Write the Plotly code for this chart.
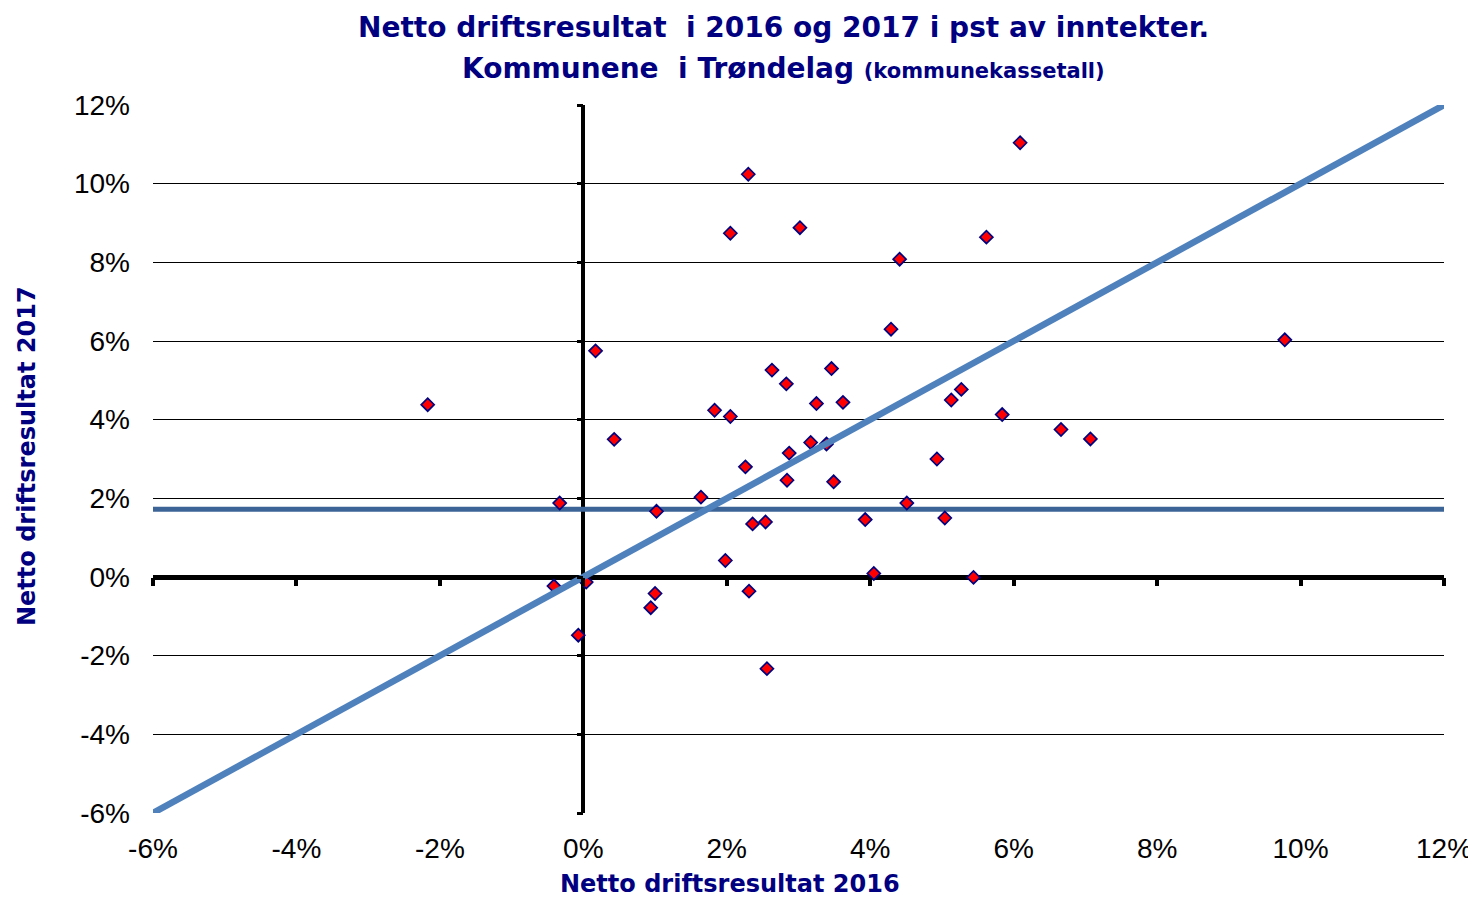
import plotly.graph_objects as go

# ---- data (percent) ----
result_2016 = [-2.17, 0.17, 0.43, -0.33, -0.41, 0.04, -0.07, 1.02, 1.00, 0.94,
               1.64, 1.83, 2.05, 2.05, 2.30, 2.26, 1.98, 2.36, 2.54, 2.31,
               2.56, 2.63, 2.83, 2.84, 2.87, 3.02, 3.17, 3.25, 3.39, 3.46,
               3.49, 3.62, 3.93, 4.05, 4.29, 4.41, 4.51, 4.93, 5.04, 5.13,
               5.27, 5.44, 5.62, 5.84, 6.09, 6.66, 7.07, 9.78]
result_2017 = [4.38, 5.75, 3.50, 1.88, -0.23, -0.13, -1.48, 1.67, -0.42, -0.78,
               2.03, 4.24, 4.08, 8.74, 10.24, 2.80, 0.42, 1.35, 1.40, -0.36,
               -2.33, 5.26, 4.91, 2.46, 3.15, 8.88, 3.42, 4.41, 3.38, 5.30,
               2.42, 4.44, 1.46, 0.09, 6.30, 8.08, 1.88, 3.00, 1.50, 4.50,
               4.77, -0.01, 8.64, 4.13, 11.04, 3.75, 3.51, 6.03]
avg_2017 = 1.72
axis_range = [-6, 12]
tick_values = [-6, -4, -2, 0, 2, 4, 6, 8, 10, 12]
tick_labels = ["-6%", "-4%", "-2%", "0%", "2%", "4%", "6%", "8%", "10%", "12%"]

FONT = "Liberation Sans, Arial, sans-serif"
BOLD_FONT = "DejaVu Sans, Verdana, sans-serif"
NAVY = "#000080"

# page body has an 8px margin; figure is sized/placed to compensate
W, H = 1476, 890
RW = W - 8  # width actually rendered in the page
ML, MR, MT, MB = 145, 32, 97, 85
PW, PH = RW - ML - MR, H - MT - MB


def px_x(page_x):
    return (page_x - 8 - ML) / PW


def px_y(page_y):
    return 1 - (page_y - 8 - MT) / PH


fig = go.Figure()

# average line (below markers)
fig.add_trace(go.Scatter(
    x=axis_range, y=[avg_2017, avg_2017], mode="lines",
    line=dict(color="#3C6496", width=5), hoverinfo="skip", showlegend=False,
    cliponaxis=False))

# municipalities
fig.add_trace(go.Scatter(
    x=result_2016, y=result_2017, mode="markers",
    marker=dict(symbol="diamond", size=10, color="#FF0000",
                line=dict(color=NAVY, width=1.7)),
    showlegend=False))

# diagonal y = x
fig.add_trace(go.Scatter(
    x=axis_range, y=axis_range, mode="lines",
    line=dict(color="#4F81BD", width=6.5), hoverinfo="skip", showlegend=False,
    cliponaxis=False))

# dummy trace to activate overlay axes carrying tick marks on the zero lines
fig.add_trace(go.Scatter(x=[None], y=[None], xaxis="x2", yaxis="y2",
                         showlegend=False, hoverinfo="skip"))

zero_frac = (0 - axis_range[0]) / (axis_range[1] - axis_range[0])

fig.update_layout(
    width=W, height=H,
    paper_bgcolor="white", plot_bgcolor="white",
    margin=dict(l=ML, r=MR, t=MT, b=MB),
    font=dict(family=FONT, color="black"),
    xaxis=dict(
        range=axis_range, tickvals=tick_values, ticktext=tick_labels,
        showgrid=False, showline=False, ticks="",
        zeroline=True, zerolinecolor="black", zerolinewidth=3.5,
        tickfont=dict(size=28, color="black"), ticklabelstandoff=16,
        fixedrange=True),
    yaxis=dict(
        range=axis_range, tickvals=tick_values, ticktext=tick_labels,
        showgrid=True, gridcolor="black", gridwidth=1,
        showline=False, ticks="",
        zeroline=True, zerolinecolor="black", zerolinewidth=5,
        tickfont=dict(size=28, color="black"), ticklabelstandoff=22,
        fixedrange=True),
    xaxis2=dict(
        overlaying="x", anchor="free", position=zero_frac, side="bottom",
        range=axis_range, tickvals=tick_values, showticklabels=False,
        ticks="outside", ticklen=8, tickwidth=4, tickcolor="black",
        showgrid=False, zeroline=False, showline=False),
    yaxis2=dict(
        overlaying="y", anchor="free", position=zero_frac, side="left",
        range=axis_range, tickvals=tick_values, showticklabels=False,
        ticks="outside", ticklen=6, tickwidth=3, tickcolor="black",
        showgrid=False, zeroline=False, showline=False),
    annotations=[
        dict(text="<b>Netto driftsresultat  i 2016 og 2017 i pst av inntekter.</b>",
             xref="paper", yref="paper", x=px_x(783), y=px_y(28),
             xanchor="center", yanchor="middle", showarrow=False,
             font=dict(size=28, color=NAVY, family=BOLD_FONT)),
        dict(text="<b>Kommunene  i Trøndelag <span style='font-size:21px'>(kommunekassetall)</span></b>",
             xref="paper", yref="paper", x=px_x(783), y=px_y(68),
             xanchor="center", yanchor="middle", showarrow=False,
             font=dict(size=28, color=NAVY, family=BOLD_FONT)),
        dict(text="<b>Netto driftsresultat 2016</b>",
             xref="paper", yref="paper", x=px_x(730), y=px_y(884),
             xanchor="center", yanchor="middle", showarrow=False,
             font=dict(size=24, color=NAVY, family=BOLD_FONT)),
        dict(text="<b>Netto driftsresultat 2017</b>", textangle=-90,
             xref="paper", yref="paper", x=px_x(27), y=px_y(456),
             xanchor="center", yanchor="middle", showarrow=False,
             font=dict(size=24, color=NAVY, family=BOLD_FONT)),
    ],
)

fig.write_html("out.html")
